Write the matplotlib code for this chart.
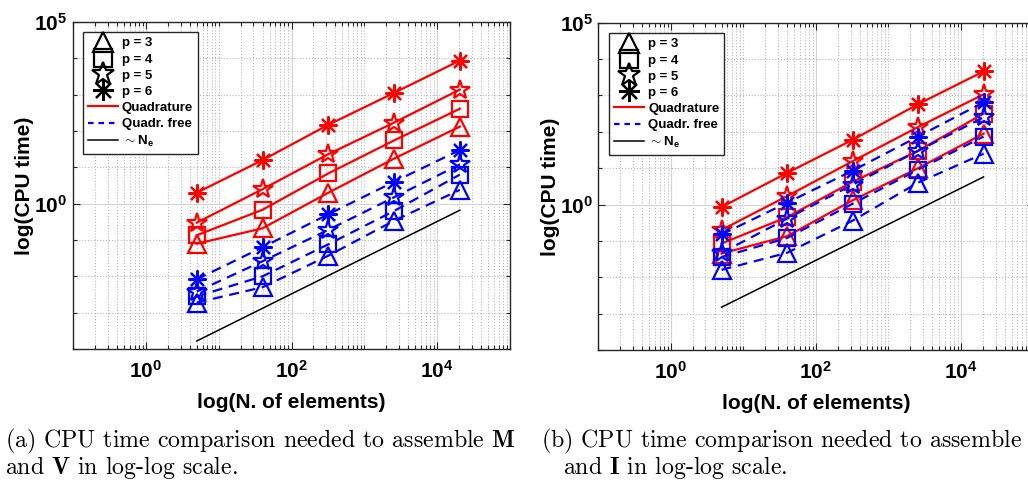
import matplotlib
matplotlib.use("Agg")
import matplotlib.pyplot as plt
from matplotlib.lines import Line2D

plt.rcParams["font.family"] = ["Liberation Sans", "DejaVu Sans"]
plt.rcParams["mathtext.fontset"] = "custom"
plt.rcParams["mathtext.rm"] = "Liberation Sans"
plt.rcParams["mathtext.bf"] = "Liberation Sans:bold"

# number of elements (x axis)
n_elems = [5, 40, 320, 2560, 20480]
orders = [3, 4, 5, 6]

# (a) CPU time to assemble M and V
quad_a_p3 = [0.079, 0.21, 2.0, 17.4, 132]
quad_a_p4 = [0.135, 0.68, 6.8, 55, 410]
quad_a_p5 = [0.30, 2.5, 23, 170, 1380]
quad_a_p6 = [2.0, 15.8, 148, 1120, 8700]
free_a_p3 = [0.0019, 0.0050, 0.037, 0.34, 2.4]
free_a_p4 = [0.0028, 0.010, 0.076, 0.63, 6.3]
free_a_p5 = [0.0038, 0.026, 0.19, 1.5, 12]
free_a_p6 = [0.0083, 0.063, 0.51, 4.0, 30]

# (b) CPU time to assemble M and I
quad_b_p3 = [0.045, 0.135, 1.3, 10, 89]
quad_b_p4 = [0.085, 0.45, 4.2, 30, 316]
quad_b_p5 = [0.20, 1.7, 15.5, 135, 1070]
quad_b_p6 = [0.85, 7.4, 60, 575, 4570]
free_b_p3 = [0.016, 0.047, 0.36, 4.0, 25]
free_b_p4 = [0.036, 0.12, 1.05, 9.1, 74]
free_b_p5 = [0.047, 0.41, 3.5, 30, 250]
free_b_p6 = [0.15, 1.12, 8.5, 74, 645]

# ~ N_e reference line
ref_x = [5, 20480]
ref_a = [1.66e-4, 0.66]
ref_b = [1.5e-3, 5.75]

x_ticks = [1, 1e2, 1e4]
x_ticklabels = [r"$\mathbf{10^{0}}$", r"$\mathbf{10^{2}}$", r"$\mathbf{10^{4}}$"]
y_ticks = [1, 1e5]
y_ticklabels = [r"$\mathbf{10^{0}}$", r"$\mathbf{10^{5}}$"]

caption_a = [r"(a) CPU time comparison needed to assemble $\mathbf{M}$",
             r"and $\mathbf{V}$ in log-log scale."]
caption_b = [r"(b) CPU time comparison needed to assemble $\mathbf{M}$",
             r"and $\mathbf{I}$ in log-log scale."]

MARKERS = {3: "^", 4: "s", 5: "*", 6: (8, 2, 0)}
MSIZE = {3: 13, 4: 11, 5: 15, 6: 13}
AXCOL = "#262626"
W, H = 1028, 484


def draw_panel(ax, quad, free, ref, leg_anchor):
    for p, y in zip(orders, quad):
        ax.plot(n_elems, y, color="red", lw=1.6, marker=MARKERS[p],
                ms=MSIZE[p], mfc="none", mew=1.6)
    for p, y in zip(orders, free):
        ax.plot(n_elems, y, color="blue", lw=1.6, ls=(0, (4.5, 3)),
                marker=MARKERS[p], ms=MSIZE[p], mfc="none", mew=1.6)
    ax.plot(ref_x, ref, color="black", lw=1.1)

    ax.set_xscale("log")
    ax.set_yscale("log")
    ax.set_xlim(1e-1, 1e5)
    ax.set_ylim(1e-4, 1e5)
    ax.set_xticks(x_ticks, x_ticklabels)
    ax.set_yticks(y_ticks, y_ticklabels)
    ax.set_xticks([m * 10.0 ** d for d in range(-1, 5) for m in range(1, 10)
                   if m * 10.0 ** d not in x_ticks] + [1e5], minor=True)
    ax.set_yticks([10.0 ** d for d in range(-4, 5) if d != 0], minor=True)
    ax.set_yticklabels([], minor=True)
    ax.set_xticklabels([], minor=True)
    ax.tick_params(which="both", direction="in", top=True, right=True,
                   color=AXCOL, labelsize=15, width=0.8)
    ax.tick_params(which="major", length=5)
    ax.tick_params(axis="x", which="major", pad=8)
    ax.tick_params(axis="y", which="major", pad=4)
    ax.tick_params(which="minor", length=3)
    ax.grid(which="major", color="#d4d4d4", ls="-", lw=0.8)
    ax.grid(which="minor", color="#b8b8b8", ls=":", lw=0.8)
    ax.set_axisbelow(True)
    for s in ax.spines.values():
        s.set_color(AXCOL)
        s.set_linewidth(1.0)

    ax.set_xlabel("log(N. of elements)", fontsize=15, fontweight="bold")
    ax.set_ylabel("log(CPU time)", fontsize=15, fontweight="bold")
    ax.xaxis.label.set_va("center")
    ax.yaxis.label.set_va("center")
    ax.xaxis.set_label_coords(0.5, -0.163)
    ax.yaxis.set_label_coords(-0.11, 0.5)

    handles = [Line2D([], [], color="black", ls="none", marker=MARKERS[p],
                      ms=MSIZE[p] + 2, mfc="none", mew=1.6) for p in orders]
    handles += [Line2D([], [], color="red", lw=1.6),
                Line2D([], [], color="blue", lw=1.6, ls=(0, (2.5, 2.2))),
                Line2D([], [], color="black", lw=1.1)]
    labels = [f"p = {p}" for p in orders] + ["Quadrature", "Quadr. free",
                                             r"$\sim \mathbf{N_e}$"]
    leg = ax.legend(handles, labels, loc="upper left", bbox_to_anchor=leg_anchor,
                    borderaxespad=0, fancybox=False, framealpha=1,
                    edgecolor=AXCOL, prop={"weight": "bold", "size": 9.5},
                    labelspacing=0.27, handlelength=2.3, handletextpad=0.3,
                    handleheight=0.8, borderpad=0.35)
    leg.get_frame().set_linewidth(1.0)


fig = plt.figure(figsize=(W / 100, H / 100), dpi=100)
ax_a = fig.add_axes([73 / W, 1 - 349 / H, 437 / W, 327 / H])
ax_b = fig.add_axes([598.3 / W, 1 - 350 / H, 435.2 / W, 327.3 / H])

draw_panel(ax_a, [quad_a_p3, quad_a_p4, quad_a_p5, quad_a_p6],
           [free_a_p3, free_a_p4, free_a_p5, free_a_p6], ref_a, (0.023, 0.969))
draw_panel(ax_b, [quad_b_p3, quad_b_p4, quad_b_p5, quad_b_p6],
           [free_b_p3, free_b_p4, free_b_p5, free_b_p6], ref_b, (0.025, 0.968))

cap_kw = dict(fontsize=17.2, family="cmr10", math_fontfamily="cm", va="baseline")
fig.text(5 / W, 1 - 447 / H, caption_a[0], **cap_kw)
fig.text(5 / W, 1 - 474 / H, caption_a[1], **cap_kw)
fig.text(541 / W, 1 - 447 / H, caption_b[0], **cap_kw)
fig.text(563 / W, 1 - 474 / H, caption_b[1], **cap_kw)

fig.savefig("out.png", dpi=100)
